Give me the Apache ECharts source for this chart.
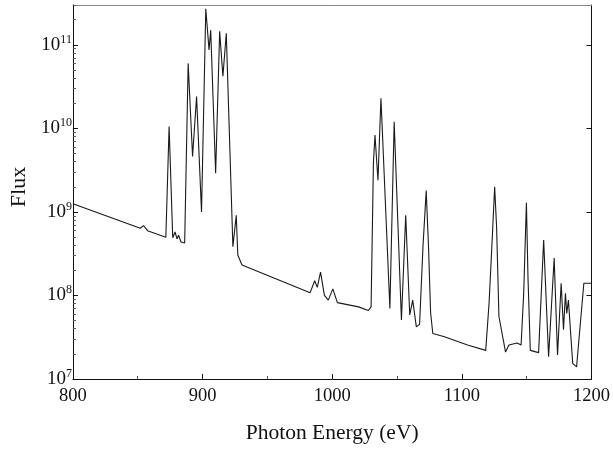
<!DOCTYPE html>
<html><head><meta charset="utf-8">
<script src="https://cdn.jsdelivr.net/npm/echarts@6/dist/echarts.min.js"></script>
<style>html,body{margin:0;padding:0;background:#fff}#c{width:613px;height:449px}</style>
</head><body><div id="c"></div>
<script>
// Photon energy (eV)
const energy = [
  800, 852.0, 854.5, 857.6, 871.7, 874.2, 877.0, 878.8, 880.3, 881.5, 883.4, 886.2,
  888.9, 892.3, 895.4, 899.2, 902.5, 905.0, 906.3, 910.1, 913.2, 915.7, 918.3,
  923.4, 926.0, 927.2, 930.4, 983.0, 986.5, 988.5, 991.0, 994.0, 997.0, 1000.5,
  1004.0, 1020.3, 1027.9, 1030.0, 1031.8, 1033.0, 1035.3, 1037.6, 1044.5, 1047.8,
  1053.4, 1056.7, 1059.8, 1062.1, 1064.9, 1067.4, 1070.0, 1072.5, 1074.3, 1075.9,
  1077.6, 1086.6, 1104.4, 1118.4, 1121.0, 1123.5, 1125.3, 1126.8, 1128.6, 1133.7,
  1136.3, 1142.6, 1145.7, 1147.7, 1149.8, 1151.0, 1152.8, 1159.2, 1163.1, 1166.9,
  1171.2, 1173.8, 1176.6, 1178.4, 1179.9, 1180.9, 1182.2, 1185.5, 1188.5, 1194.1, 1200
];
// Flux
const flux = [
  1.25e9, 6.38e8, 6.86e8, 5.97e8, 4.98e8, 1.05e10, 4.9e8, 5.75e8, 4.75e8, 5.25e8, 4.37e8, 4.25e8,
  6.0e10, 4.6e9, 2.4e10, 1.0e9, 2.7e11, 8.7e10, 1.5e11, 2.9e9, 1.45e11, 4.2e10, 1.38e11,
  3.84e8, 9.1e8, 3.05e8, 2.32e8, 1.08e8, 1.5e8, 1.25e8, 1.9e8, 1.0e8, 8.8e7, 1.2e8,
  8.2e7, 7.3e7, 6.6e7, 7.3e7, 3.9e9, 8.3e9, 2.4e9, 2.3e10, 7.0e7, 1.2e10,
  5.1e7, 9.1e8, 5.85e7, 8.8e7, 4.2e7, 4.5e7, 3.8e8, 1.8e9, 3.8e8, 6.2e7,
  3.5e7, 3.2e7, 2.55e7, 2.2e7, 8.1e7, 5.0e8, 2.0e9, 6.6e8, 5.6e7, 2.1e7,
  2.55e7, 2.7e7, 2.55e7, 1.06e8, 1.29e9, 1.67e8, 2.2e7, 2.07e7, 4.6e8, 1.85e7,
  2.8e8, 1.94e7, 1.4e8, 3.9e7, 1.06e8, 6.1e7, 8.8e7, 1.54e7, 1.4e7, 1.4e8, 1.4e8
];
const xTicks = [800, 900, 1000, 1100, 1200];
const yTicks = [1e7, 1e8, 1e9, 1e10, 1e11];
const yMin = 1e7, yMax = 3e11;
const yMinorTicks = [];
for (let e = 7; e <= 11; e++) for (let m = 2; m <= 9; m++) { const v = m * Math.pow(10, e); if (v <= yMax) yMinorTicks.push(v); }

const font = '"Liberation Serif", "Times New Roman", serif';
const chart = echarts.init(document.getElementById('c'), null, {renderer: 'canvas'});
const supFmt = v => {
  const e = Math.round(Math.log10(v));
  if (Math.abs(Math.log10(v) - e) > 1e-6) return '';
  return '{a|10}{b|' + e + '}';
};
chart.setOption({
  animation: false,
  backgroundColor: '#fff',
  grid: {left: 72, right: 18, top: 5, bottom: 70},
  xAxis: [{
    type: 'value', min: 800, max: 1200, interval: 100,
    name: 'Photon Energy (eV)', nameLocation: 'middle', nameGap: 43,
    nameTextStyle: {fontFamily: font, fontSize: 21.5, color: '#111'},
    axisLine: {lineStyle: {color: '#111', width: 1}},
    axisTick: {inside: true, length: 5, lineStyle: {color: '#111'}, customValues: xTicks},
    minorTick: {show: true, splitNumber: 2, length: 3, lineStyle: {color: '#555'}},
    axisLabel: {margin: 8, fontFamily: font, fontSize: 18.5, color: '#111', customValues: xTicks,
      formatter: v => String(v)},
    splitLine: {show: false}
  }, {
    type: 'value', min: 800, max: 1200, position: 'top',
    axisLine: {lineStyle: {color: '#888', width: 1}},
    axisTick: {show: false}, axisLabel: {show: false}, splitLine: {show: false}
  }],
  yAxis: [{
    type: 'log', logBase: 10, min: yMin, max: yMax,
    name: 'Flux', nameLocation: 'middle', nameGap: 41, nameRotate: 90,
    nameTextStyle: {fontFamily: font, fontSize: 22, color: '#111', padding: [0, 0, 0, 10]},
    axisLine: {show: true, lineStyle: {color: '#111', width: 1}},
    axisTick: {inside: true, length: 5, lineStyle: {color: '#111'}, customValues: yTicks},
    axisLabel: {
      margin: 1, fontFamily: font, color: '#111', customValues: yTicks,
      formatter: supFmt,
      rich: {
        a: {fontFamily: font, fontSize: 19, color: '#111'},
        b: {fontFamily: font, fontSize: 12, color: '#111', padding: [0, 0, 11, 0]}
      }
    },
    splitLine: {show: false}
  }, {
    type: 'log', logBase: 10, min: yMin, max: yMax, position: 'right',
    axisLine: {show: true, lineStyle: {color: '#111', width: 1}},
    axisTick: {inside: true, length: 5, lineStyle: {color: '#111'}, customValues: yTicks},
    axisLabel: {show: false}, splitLine: {show: false}
  }, {
    type: 'log', logBase: 10, min: yMin, max: yMax, position: 'left',
    axisLine: {show: false},
    axisTick: {show: true, inside: true, length: 3, lineStyle: {color: '#555'}, customValues: yMinorTicks},
    axisLabel: {show: false}, splitLine: {show: false}
  }],
  series: [{
    type: 'line', xAxisIndex: 0, yAxisIndex: 0,
    data: energy.map((e, i) => [e, flux[i]]),
    showSymbol: false, symbol: 'none',
    lineStyle: {color: '#1a1a1a', width: 1.1},
    z: 3
  }]
});
</script>
</body></html>
